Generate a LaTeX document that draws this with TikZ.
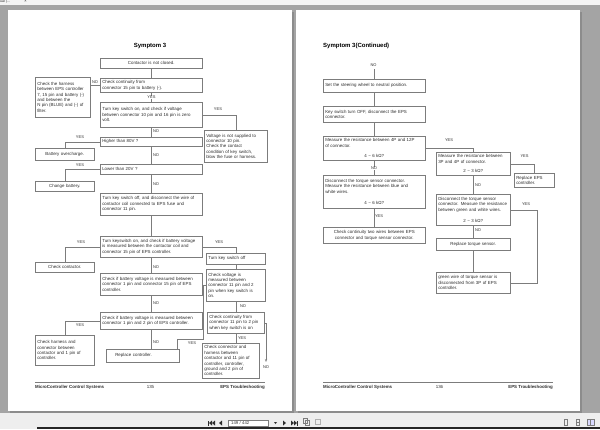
\documentclass[tikz,border=0pt]{standalone}
\usepackage{fontspec}
\setmainfont{Liberation Sans}
\usetikzlibrary{arrows.meta}

\definecolor{viewergray}{HTML}{A4A4A4}
\definecolor{shadowgray}{HTML}{8C8C8C}
\definecolor{barlight}{HTML}{EEEEEE}
\definecolor{topbar}{HTML}{F4F4F4}
\definecolor{linegray}{HTML}{7C7C7C}
\definecolor{inkgray}{HTML}{2E2E2E}

\newcommand*{\boxfont}{\fontsize{4.4}{5.4}\selectfont}
\newcommand*{\lblfont}{\fontsize{4}{4.5}\selectfont}
\newcommand*{\footy}{382}
\newcommand*{\footty}{387}

\begin{document}
\begin{tikzpicture}
[
	x=1pt, y=-1pt,
	box/.style={draw=linegray,line width=0.5pt,fill=white,anchor=north west,inner xsep=2pt,inner ysep=1pt,font=\boxfont,text=inkgray,align=left},
	cbox/.style={box,align=center},
	boxdim/.style 2 args={minimum width=#1pt,minimum height=#2pt},
	wire/.style={draw=linegray,line width=0.5pt},
	lbl/.style={font=\lblfont,text=inkgray,inner sep=0.3pt},
	title/.style={font=\bfseries\fontsize{6}{7}\selectfont,text=black,inner sep=0pt},
	foot/.style={font=\fontsize{4.4}{5}\selectfont,text=inkgray,inner sep=0pt}
]
	\useasboundingbox (0,0) rectangle (600,429);

	% viewer
	\fill[topbar] (0,0) rectangle (600,5);
	\fill[viewergray] (0,5) rectangle (600,413);
	\fill[shadowgray] (9.5,11.5) rectangle (293.5,413);
	\fill[white] (8,10) rectangle (292,411);
	\fill[shadowgray] (297.5,11.5) rectangle (581.5,413);
	\fill[white] (296,10) rectangle (580,411);
	\fill[barlight] (0,413) rectangle (600,429);
	\fill[black!85] (37,427) rectangle (600,429);
	\node[anchor=north west,font=\fontsize{3.5}{4}\selectfont,text=inkgray,inner sep=0pt] (tabname) at (0,0) {ual (...};
	\node[font=\fontsize{4}{4}\selectfont,text=inkgray,inner sep=0pt] (tabclose) at (25.5,1.5) {×};

	% page navigation
	\fill[inkgray] (208,420.5) rectangle (208.7,425.5);
	\fill[inkgray] (212,420.5) -- (209,423) -- (212,425.5) -- cycle;
	\fill[inkgray] (215,420.5) -- (212,423) -- (215,425.5) -- cycle;
	\fill[inkgray] (222,420.5) -- (219,423) -- (222,425.5) -- cycle;
	\node[draw=linegray,line width=0.4pt,fill=white,anchor=west,minimum width=40pt,minimum height=6.5pt,inner sep=0pt,font=\fontsize{4.2}{5}\selectfont,text=inkgray,text width=37pt,align=left] (pagebox) at (228,423) {\hspace*{1.5pt}149 / 442};
	\fill[inkgray] (274,422) -- (277,422) -- (275.5,424) -- cycle;
	\fill[inkgray] (283,420.5) -- (286,423) -- (283,425.5) -- cycle;
	\fill[inkgray] (291,420.5) -- (294,423) -- (291,425.5) -- cycle;
	\fill[inkgray] (294,420.5) -- (297,423) -- (294,425.5) -- cycle;
	\fill[inkgray] (297.3,420.5) rectangle (298,425.5);
	\draw[linegray,line width=0.4pt] (303,418.5) rectangle (307,423.5);
	\draw[linegray,line width=0.4pt] (305,420) rectangle (309,425);
	\draw[linegray!60,line width=0.4pt] (315,419.5) rectangle (320,424.5);
	\draw[linegray,line width=0.4pt] (564,419.5) rectangle (567.5,425);
	\draw[linegray,line width=0.4pt] (576,419.5) rectangle (579.5,425);
	\draw[linegray,line width=0.4pt] (576,422.2) -- (579.5,422.2);
	\draw[linegray,line width=0.4pt,fill=blue!15] (587,419.5) rectangle (594,425);
	\draw[linegray,line width=0.4pt] (590.5,419.5) -- (590.5,425);

	% titles
	\node[title] (ttlleft) at (150,46) {Symptom 3};
	\node[title,anchor=west] (ttlright) at (323,46) {Symptom 3(Continued)};

	% left page boxes
	\node[cbox,boxdim={102}{9.5},text width=98pt] (notclosed) at (100,58) {Contactor is not closed.};
	\node[box,boxdim={102}{14},text width=98pt] (cont15) at (100,78) {Check continuity from\\connector 15 pin to battery (-).};
	\node[box,boxdim={55}{40},text width=51pt] (harness) at (35,77) {Check the harness\\between EPS controller\\7, 15 pin and battery (-)\\and between the\\N pin (BLUE) and (-) of\\filter.};
	\node[box,boxdim={102}{25},text width=98pt] (zerovolt) at (100,102) {Turn key switch on, and check if voltage\\between connector 10 pin and 16 pin is zero\\volt.};
	\node[box,boxdim={63}{32},text width=59pt] (nosupply) at (204,130) {Voltage is not supplied to\\connector 10 pin.\\Check the contact\\condition of key switch,\\blow the fuse or harness.};
	\node[box,boxdim={102}{9},text width=98pt] (over80) at (100,137) {Higher than 80V ?};
	\node[cbox,boxdim={59}{12},text width=55pt] (overchg) at (35,148) {Battery overcharge.};
	\node[box,boxdim={102}{10},text width=98pt] (under20) at (100,164) {Lower than 20V ?};
	\node[cbox,boxdim={59}{10},text width=55pt] (chgbat) at (35,181) {Change battery.};
	\node[box,boxdim={102}{22},text width=98pt] (coiloff) at (100,193) {Turn key switch off, and disconnect the wire of\\contactor coil connected to EPS fuse and\\connector 11 pin.};
	\node[box,boxdim={102}{21},text width=98pt] (coilvolt) at (100,236) {Turn keyswitch on, and check if battery voltage\\is measured between the contactor coil and\\connector 15 pin of EPS controller.};
	\node[cbox,boxdim={59}{10},text width=55pt] (chkctr) at (35,262) {Check contactor.};
	\node[box,boxdim={59}{11},text width=55pt] (keyoff) at (206,253) {Turn key switch off};
	\node[box,boxdim={59}{32},text width=55pt] (v11to2) at (206,269) {Check voltage is\\measured between\\connector 11 pin and 2\\pin when key switch is\\on.};
	\node[box,boxdim={102}{22},text width=98pt] (v1to15) at (100,273) {Check if battery voltage is measured between\\connector 1 pin and connector 15 pin of EPS\\controller.};
	\node[box,boxdim={102}{17},text width=98pt] (v1to2) at (100,312) {Check if battery voltage is measured between\\connector 1 pin and 2 pin of EPS controller.};
	\node[box,boxdim={57}{21},text width=53pt] (c11to2) at (207,312) {Check continuity from\\connector 11 pin to 2 pin\\when key switch is on};
	\node[box,boxdim={59}{30},text width=55pt] (chkhar) at (35,335) {Check harness and\\connector between\\contactor and 1 pin of\\controller.};
	\node[box,boxdim={73}{13},text width=55pt,inner xsep=9pt] (replctl) at (106,349) {Replace controller.};
	\node[box,boxdim={57}{35},text width=53pt] (chkconn) at (202,343) {Check connector and\\harness between\\contactor and 11 pin of\\controller, controller,\\ground and 2 pin of\\controller.};
	\coordinate (noend) at (266,362);

	% left page connectors
	\draw[wire] (notclosed) -- (cont15);
	\draw[wire] (cont15) -- (zerovolt);
	\draw[wire] (cont15.west) -- (cont15.west -| harness.east);
	\draw[wire] (zerovolt) -- (over80);
	\draw[wire] (zerovolt.east) -| (nosupply.north);
	\draw[wire] (over80) -- (under20);
	\draw[wire] (over80.west) -| (overchg.north);
	\draw[wire] (under20) -- (coiloff);
	\draw[wire] (under20.west) -| (chgbat.north);
	\draw[wire] (coiloff) -- (coilvolt);
	\draw[wire] (coilvolt.west) -| (chkctr.north);
	\draw[wire] (coilvolt.east) -| (keyoff.north);
	\draw[wire] (keyoff) -- (v11to2);
	\draw[wire] (coilvolt) -- (v1to15);
	\draw[wire] (v1to15) -- (v1to2);
	\draw[wire] (v1to2.west) -| (chkhar.north);
	\draw[wire] (v1to2.south) -- (v1to2.south |- replctl.north);
	\draw[wire] (v11to2) -- (c11to2);
	\draw[wire] (c11to2.south) -- (c11to2.south |- chkconn.north);
	\draw[wire] (v11to2.west) -- ++(-3,0) |- ([xshift=-2pt,yshift=10pt]replctl.north east) -- ([xshift=-2pt]replctl.north east);
	\draw[wire,-{Stealth[length=3pt,width=2.2pt]}] (c11to2.east) -| (noend);

	% left page labels
	\node[lbl] (no1) at (95,82) {NO};
	\node[lbl,fill=white] (yes1) at (151.5,97.5) {YES};
	\node[lbl] (yes2) at (218,109) {YES};
	\node[lbl] (no2) at (156,131) {NO};
	\node[lbl] (yes3) at (80,137.5) {YES};
	\node[lbl] (no3) at (156,155) {NO};
	\node[lbl] (yes4) at (80,165) {YES};
	\node[lbl] (no4) at (156,184) {NO};
	\node[lbl] (yes5) at (81,242) {YES};
	\node[lbl] (yes6) at (219,242) {YES};
	\node[lbl] (no5) at (156,267) {NO};
	\node[lbl] (no6) at (243,306.5) {NO};
	\node[lbl] (no7) at (156,303.5) {NO};
	\node[lbl] (yes7) at (80,325) {YES};
	\node[lbl] (no8) at (156,342) {NO};
	\node[lbl] (yes8) at (192,343) {YES};
	\node[lbl] (yes9) at (242,338.5) {YES};
	\node[lbl] (no9) at (266,367) {NO};

	% right page boxes
	\coordinate (contin) at (374,69);
	\node[box,boxdim={102}{13},text width=98pt] (neutral) at (323,79) {Set the steering wheel to neutral position.};
	\node[box,boxdim={102}{16},text width=98pt] (epsoff) at (323,106) {Key switch turn OFF, disconnect the EPS\\connector.};
	\node[box,boxdim={102}{24},text width=98pt] (r4to12) at (323,136) {Measure the resistance between 4P and 12P\\of connector.\\[5.4pt]\hspace*{\fill}4 \textasciitilde{} 6 kΩ?\hspace*{\fill}};
	\node[box,boxdim={74}{23},text width=70pt] (r3to4) at (436,152) {Measure the resistance between\\3P and 4P of connector.\\[4pt]\hspace*{\fill}2 \textasciitilde{} 3 kΩ?\hspace*{\fill}};
	\node[box,boxdim={40}{14},text width=36pt] (replEPS) at (514,173) {Replace EPS\\controller.};
	\node[box,boxdim={102}{33},text width=98pt] (bluewht) at (323,175) {Disconnect the torque sensor connector.\\Measure the resistance between blue and\\white wires.\\[5.4pt]\hspace*{\fill}4 \textasciitilde{} 6 kΩ?\hspace*{\fill}};
	\node[cbox,boxdim={102}{16},text width=98pt] (twowire) at (323,227) {Check continuity two wires between EPS\\connector and torque sensor connector.};
	\node[box,boxdim={74}{31},text width=70pt] (grnwht) at (436,194) {Disconnect the torque sensor\\connector. Measure the resistance\\between green and white wires.\\[5.4pt]\hspace*{\fill}2 \textasciitilde{} 3 kΩ?\hspace*{\fill}};
	\node[cbox,boxdim={74}{12},text width=70pt] (repltrq) at (436,238) {Replace torque sensor.};
	\node[box,boxdim={74}{21},text width=70pt] (grnwire) at (436,272) {green wire of torque sensor is\\disconnected from 3P of EPS\\controller.};

	% right page connectors
	\draw[wire] (contin) -- (contin |- neutral.north);
	\draw[wire] (neutral) -- (epsoff);
	\draw[wire] (epsoff) -- (r4to12);
	\draw[wire] (r4to12) -- (bluewht);
	\draw[wire] (r4to12.east) -| (r3to4.north);
	\draw[wire] (r3to4.east) -| (replEPS.north);
	\draw[wire] (r3to4) -- (grnwht);
	\draw[wire] (bluewht) -- (twowire);
	\draw[wire] (grnwht) -- (repltrq);
	\draw[wire] (repltrq) -- (grnwire);
	\draw[wire] (grnwht.east) -- ++(27,0) |- (grnwire.east);

	% right page labels
	\node[lbl] (no10) at (373.5,65) {NO};
	\node[lbl] (yes10) at (449,140) {YES};
	\node[lbl] (yes11) at (524.5,156) {YES};
	\node[lbl,fill=white] (no11) at (374,168.5) {NO};
	\node[lbl] (no12) at (478,185) {NO};
	\node[lbl] (yes12) at (379,216) {YES};
	\node[lbl] (yes13) at (526,204) {YES};
	\node[lbl] (no13) at (478,230) {NO};

	% footers
	\draw[linegray,line width=0.6pt] (35,\footy) -- (265,\footy);
	\node[foot,anchor=west] (footl1) at (35,\footty) {\bfseries MicroController Control Systems};
	\node[foot] (pgnum1) at (150.5,\footty) {135};
	\node[foot,anchor=east] (footr1) at (265,\footty) {\bfseries EPS Troubleshooting};
	\draw[linegray,line width=0.6pt] (323,\footy) -- (553,\footy);
	\node[foot,anchor=west] (footl2) at (323,\footty) {\bfseries MicroController Control Systems};
	\node[foot] (pgnum2) at (439.5,\footty) {136};
	\node[foot,anchor=east] (footr2) at (553,\footty) {\bfseries EPS Troubleshooting};

\end{tikzpicture}
\end{document}
